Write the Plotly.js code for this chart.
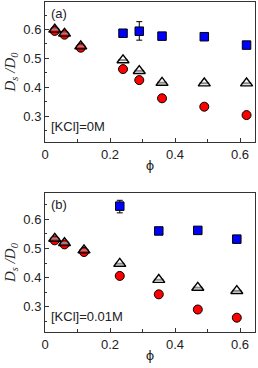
<!DOCTYPE html>
<html><head><meta charset="utf-8">
<script src="https://cdn.plot.ly/plotly-3.0.1.min.js"></script>
<style>html,body{margin:0;padding:0;background:#fff}#c{width:258px;height:368px}</style>
</head><body><div id="c"></div>
<script>
// Panel (a): [KCl]=0M
const phiA = [0.03, 0.06, 0.11, 0.24, 0.29, 0.36, 0.49, 0.62];
const triA = [0.600, 0.586, 0.542, 0.494, 0.457, 0.416, 0.414, 0.414];
const cirA = [0.595, 0.582, 0.537, 0.463, 0.425, 0.362, 0.333, 0.304];
const sqPhiA = [0.24, 0.29, 0.36, 0.49, 0.62];
const sqA = [0.587, 0.594, 0.577, 0.575, 0.546];
const sqErrPlusA = [0, 0.033, 0, 0, 0];
const sqErrMinusA = [0, 0.031, 0, 0, 0];
// Panel (b): [KCl]=0.01M
const phiB = [0.03, 0.06, 0.12, 0.23, 0.35, 0.47, 0.59];
const triB = [0.534, 0.519, 0.494, 0.448, 0.393, 0.366, 0.355];
const cirB = [0.528, 0.514, 0.488, 0.406, 0.343, 0.291, 0.263];
const sqPhiB = [0.23, 0.35, 0.47, 0.59];
const sqB = [0.645, 0.560, 0.562, 0.532];
const sqErrPlusB = [0.020, 0, 0, 0];
const sqErrMinusB = [0.023, 0, 0, 0];
const xTickVals = [0, 0.2, 0.4, 0.6];
const xTickText = ['0', '0.2', '0.4', '0.6'];
const yTickVals = [0.3, 0.4, 0.5, 0.6];
const yTickText = ['0.3', '0.4', '0.5', '0.6'];

const triMarker = {symbol:'triangle-up', size:10.5, color:'rgba(255,255,255,0)', line:{color:'#000', width:1.4}};
const stripeMarker = {symbol:'line-ew', size:7, line:{color:'#8a8a8a', width:2}};
const cirMarker = {symbol:'circle', size:9, color:'#ff0000', line:{color:'#000', width:1}};
const sqMarker = {symbol:'square', size:8.5, color:'#0000ff', line:{color:'#000', width:1}};
function pts(x, y, m, xa, ya) {
  return {x:x, y:y, type:'scatter', mode:'markers', xaxis:xa, yaxis:ya, marker:m, hoverinfo:'skip'};
}
function sqTrace(x, y, ep, em, xa, ya) {
  return {x:x, y:y, type:'scatter', mode:'markers', xaxis:xa, yaxis:ya, marker:sqMarker,
    error_y:{type:'data', array:ep, arrayminus:em, visible:true, color:'#000', thickness:1, width:3}};
}
const data = [
  pts(phiA, cirA, cirMarker, 'x', 'y'),
  pts(phiA, triA, stripeMarker, 'x', 'y'),
  pts(phiA, triA, triMarker, 'x', 'y'),
  sqTrace(sqPhiA, sqA, sqErrPlusA, sqErrMinusA, 'x', 'y'),
  pts(phiB, cirB, cirMarker, 'x2', 'y2'),
  pts(phiB, triB, stripeMarker, 'x2', 'y2'),
  pts(phiB, triB, triMarker, 'x2', 'y2'),
  sqTrace(sqPhiB, sqB, sqErrPlusB, sqErrMinusB, 'x2', 'y2')
];
const tf = {family:'Liberation Sans, Arial, sans-serif', size:13, color:'#222'};
function xa(anchor) {
  return {anchor:anchor, range:[0, 0.646], tickvals:xTickVals, ticktext:xTickText, ticks:'inside', ticklen:4,
    tickcolor:'#333', showline:true, linecolor:'#333', linewidth:1, mirror:true, showgrid:false, zeroline:false,
    tickfont:tf, minor:{dtick:0.1, tick0:0, ticks:'inside', ticklen:3, tickcolor:'#333'},
    title:{text:'ϕ', font:{family:'DejaVu Sans, sans-serif', size:13, color:'#222'}, standoff:0}};
}
function ya(anchor, dom, range) {
  return {anchor:anchor, domain:dom, range:range, tickvals:yTickVals, ticktext:yTickText, ticks:'inside', ticklen:4,
    tickcolor:'#333', showline:true, linecolor:'#333', linewidth:1, mirror:true, showgrid:false, zeroline:false,
    tickfont:tf, minor:{dtick:0.05, tick0:0, ticks:'inside', ticklen:2, tickcolor:'#333'},
    title:{text:'<i>D<sub>s</sub> /D<sub>0</sub></i>', font:{family:'Liberation Serif, serif', size:15, color:'#222'}, standoff:4}};
}
const layout = {
  width:258, height:368, margin:{l:45, r:3, t:2, b:36}, showlegend:false,
  paper_bgcolor:'#fff', plot_bgcolor:'#fff',
  xaxis:xa('y'), yaxis:ya('x', [0.5758, 1], [0.211, 0.695]),
  xaxis2:xa('y2'), yaxis2:ya('x2', [0, 0.4212], [0.214, 0.690]),
  annotations:[
    {text:'(a)', xref:'x domain', yref:'y domain', x:0.02, y:0.985, xanchor:'left', yanchor:'top', showarrow:false, font:tf},
    {text:'[KCl]=0M', xref:'x domain', yref:'y domain', x:0.02, y:0.045, xanchor:'left', yanchor:'bottom', showarrow:false, font:tf},
    {text:'(b)', xref:'x2 domain', yref:'y2 domain', x:0.02, y:0.985, xanchor:'left', yanchor:'top', showarrow:false, font:tf},
    {text:'[KCl]=0.01M', xref:'x2 domain', yref:'y2 domain', x:0.02, y:0.045, xanchor:'left', yanchor:'bottom', showarrow:false, font:tf}
  ]
};
Plotly.newPlot('c', data, layout, {displayModeBar:false, staticPlot:true});
</script></body></html>
